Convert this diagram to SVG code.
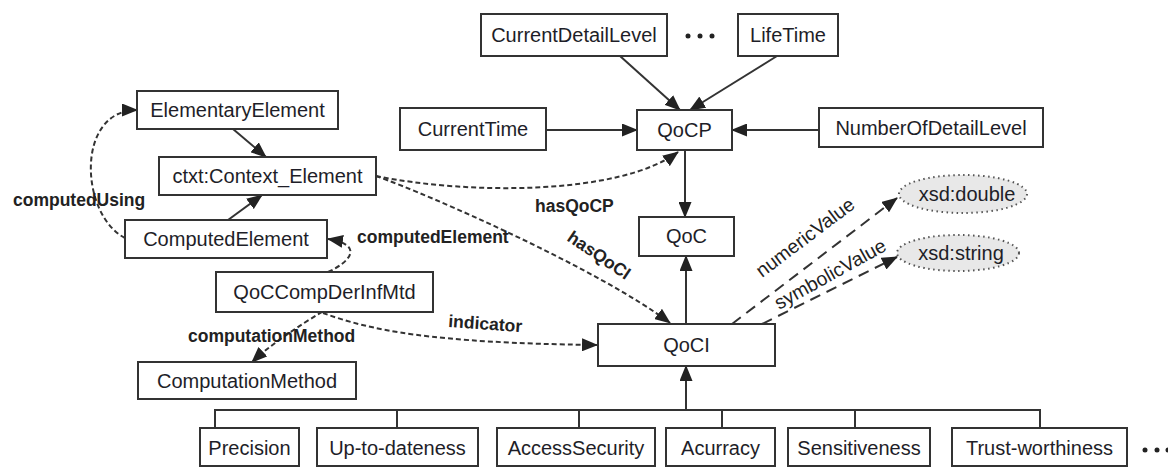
<svg xmlns="http://www.w3.org/2000/svg" width="1168" height="468" viewBox="0 0 1168 468">
<style>
.box{fill:#fff;stroke:#333;stroke-width:2}
.t{font-family:"Liberation Sans",Arial,sans-serif;font-size:20px;fill:#1e1e28;text-anchor:middle}
.lb{font-family:"Liberation Sans",Arial,sans-serif;font-size:17.5px;font-weight:bold;fill:#222}
.lr{font-family:"Liberation Sans",Arial,sans-serif;font-size:19.5px;fill:#222}
.solid{fill:none;stroke:#333;stroke-width:2}
.dash{fill:none;stroke:#333;stroke-width:2;stroke-dasharray:5,3}
.ldash{fill:none;stroke:#333;stroke-width:2;stroke-dasharray:11,7}
.ell{fill:#e8e8e8;stroke:#555;stroke-width:2;stroke-dasharray:1.5,3.5}
.dot{fill:#222}
</style>
<defs>
<marker id="ah" viewBox="0 0 16 13" refX="15" refY="6.5" markerWidth="16" markerHeight="13" markerUnits="userSpaceOnUse" orient="auto">
<path d="M0,0 L16,6.5 L0,13 Z" fill="#222"/>
</marker>
</defs>
<g id="connectors">
<line class="solid" x1="620" y1="56" x2="680" y2="110" marker-end="url(#ah)"/>
<line class="solid" x1="777" y1="56" x2="690" y2="110" marker-end="url(#ah)"/>
<line class="solid" x1="546" y1="130" x2="637" y2="130" marker-end="url(#ah)"/>
<line class="solid" x1="819" y1="130" x2="732" y2="130" marker-end="url(#ah)"/>
<line class="solid" x1="685" y1="150" x2="685" y2="217" marker-end="url(#ah)"/>
<line class="solid" x1="686" y1="324" x2="686" y2="256" marker-end="url(#ah)"/>
<line class="solid" x1="686" y1="410" x2="686" y2="366" marker-end="url(#ah)"/>
<path class="solid" d="M215,428 V410 H1040 V428 M397,410 V428 M579,410 V428 M722,410 V428 M855,410 V428"/>
<line class="solid" x1="233" y1="129" x2="266" y2="157" marker-end="url(#ah)"/>
<line class="solid" x1="228" y1="220" x2="262" y2="195" marker-end="url(#ah)"/>
<path class="dash" d="M125,238 C80,215 75,110 137,110" marker-end="url(#ah)"/>
<path class="dash" d="M328,272 C350,262 365,245 328,239" marker-end="url(#ah)"/>
<path class="dash" d="M322,312 C300,325 270,345 252,362" marker-end="url(#ah)"/>
<path class="dash" d="M323,313 C370,330 430,343 597,345" marker-end="url(#ah)"/>
<path class="dash" d="M376,176 C470,195 620,195 678,152" marker-end="url(#ah)"/>
<path class="dash" d="M376,176 C430,195 600,270 670,323" marker-end="url(#ah)"/>
<line class="ldash" x1="732" y1="324" x2="897" y2="198" marker-end="url(#ah)"/>
<line class="ldash" x1="762" y1="324" x2="897" y2="257" marker-end="url(#ah)"/>
<text class="lb" x="13" y="206">computedUsing</text>
<text class="lb" x="357" y="243">computedElement</text>
<text class="lb" x="188" y="342">computationMethod</text>
<text class="lb" x="448" y="327" transform="rotate(4 448 327)">indicator</text>
<text class="lb" x="535" y="212">hasQoCP</text>
<text class="lb" x="566" y="240" transform="rotate(34 566 240)">hasQoCI</text>
<text class="lr" x="762" y="278" transform="rotate(-37 762 278)">numericValue</text>
<text class="lr" x="779" y="310" transform="rotate(-29 779 310)">symbolicValue</text>
</g>
<g id="ElementaryElement"><rect class="box" x="137" y="91" width="201" height="38"/><text class="t" x="237.5" y="117">ElementaryElement</text></g>
<g id="ContextElement"><rect class="box" x="159" y="157" width="217" height="38"/><text class="t" x="267.5" y="183">ctxt:Context_Element</text></g>
<g id="ComputedElement"><rect class="box" x="125" y="220" width="202" height="38"/><text class="t" x="226" y="246">ComputedElement</text></g>
<g id="QoCCompDerInfMtd"><rect class="box" x="216" y="272" width="217" height="40"/><text class="t" x="324.5" y="299">QoCCompDerInfMtd</text></g>
<g id="ComputationMethod"><rect class="box" x="138" y="362" width="218" height="37"/><text class="t" x="247" y="388">ComputationMethod</text></g>
<g id="CurrentDetailLevel"><rect class="box" x="481" y="14" width="186" height="42"/><text class="t" x="574" y="42">CurrentDetailLevel</text></g>
<g id="LifeTime"><rect class="box" x="738" y="14" width="100" height="42"/><text class="t" x="788" y="42">LifeTime</text></g>
<g id="CurrentTime"><rect class="box" x="400" y="108" width="146" height="42"/><text class="t" x="473" y="136">CurrentTime</text></g>
<g id="QoCP"><rect class="box" x="637" y="110" width="95" height="40"/><text class="t" x="684.5" y="137">QoCP</text></g>
<g id="NumberOfDetailLevel"><rect class="box" x="819" y="108" width="224" height="39"/><text class="t" x="931" y="135">NumberOfDetailLevel</text></g>
<g id="QoC"><rect class="box" x="639" y="217" width="95" height="39"/><text class="t" x="686.5" y="243">QoC</text></g>
<g id="QoCI"><rect class="box" x="598" y="324" width="177" height="42"/><text class="t" x="686.5" y="352">QoCI</text></g>
<g id="xsd-double"><ellipse class="ell" cx="963" cy="194" rx="64" ry="19"/><text class="t" x="967" y="201">xsd:double</text></g>
<g id="xsd-string"><ellipse class="ell" cx="958" cy="253" rx="61" ry="18"/><text class="t" x="961" y="260">xsd:string</text></g>
<g id="Precision"><rect class="box" x="200" y="428" width="99" height="38"/><text class="t" x="249.5" y="455">Precision</text></g>
<g id="UpToDateness"><rect class="box" x="317" y="428" width="161" height="38"/><text class="t" x="397.5" y="455">Up-to-dateness</text></g>
<g id="AccessSecurity"><rect class="box" x="497" y="428" width="158" height="38"/><text class="t" x="576" y="455">AccessSecurity</text></g>
<g id="Acurracy"><rect class="box" x="666" y="428" width="109" height="38"/><text class="t" x="720.5" y="455">Acurracy</text></g>
<g id="Sensitiveness"><rect class="box" x="788" y="428" width="142" height="38"/><text class="t" x="859" y="455">Sensitiveness</text></g>
<g id="TrustWorthiness"><rect class="box" x="952" y="428" width="175" height="38"/><text class="t" x="1039.5" y="455">Trust-worthiness</text></g>
<g id="ellipsis-top"><circle class="dot" cx="688" cy="36" r="2.5"/><circle class="dot" cx="700" cy="36" r="2.5"/><circle class="dot" cx="712" cy="36" r="2.5"/></g>
<g id="ellipsis-bottom"><circle class="dot" cx="1145" cy="450" r="2.5"/><circle class="dot" cx="1157" cy="450" r="2.5"/><circle class="dot" cx="1168" cy="450" r="2.5"/></g>
</svg>
